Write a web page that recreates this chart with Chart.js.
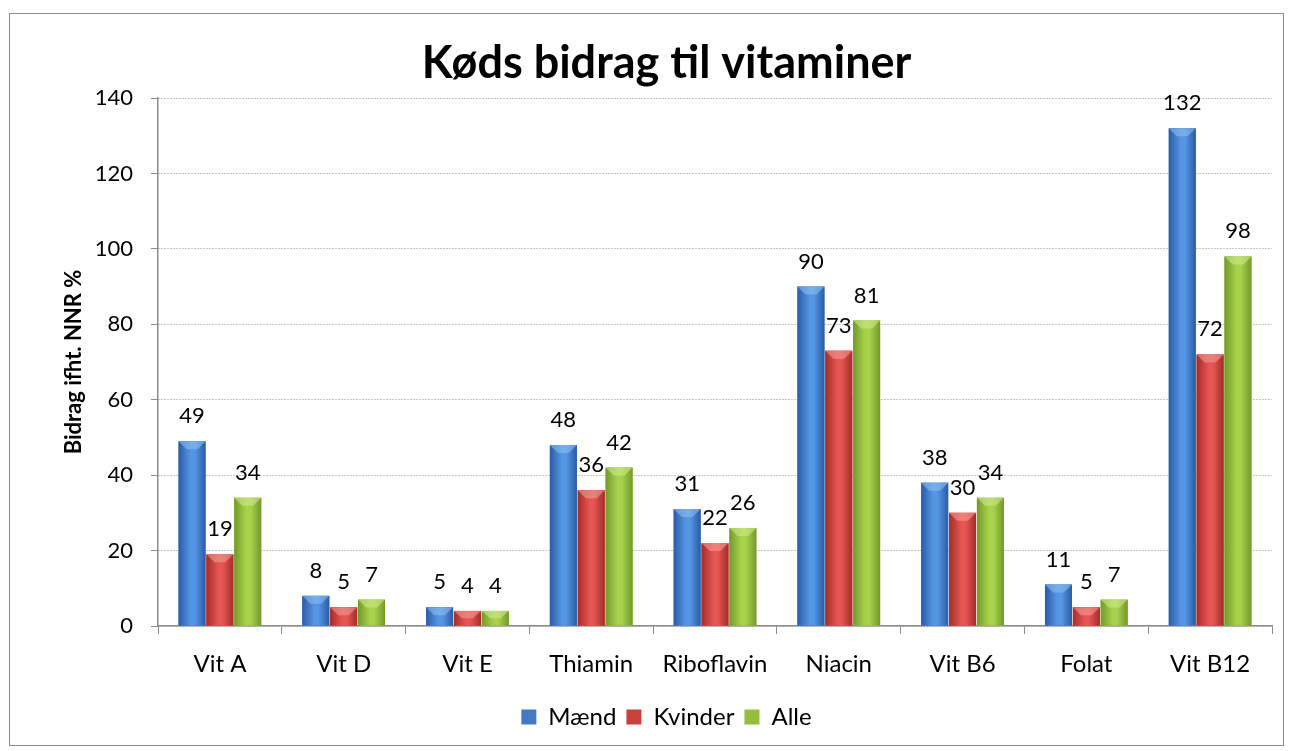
<!DOCTYPE html>
<html>
<head>
<meta charset="utf-8">
<script src="https://cdn.jsdelivr.net/npm/chart.js@4/dist/chart.umd.min.js"></script>
<style>
  html, body { margin: 0; padding: 0; background: #fff; }
  #frame { position: absolute; left: 9px; top: 13px; width: 1273px; height: 731px; border: 1px solid #8c8c8c; }
  #wrap { position: absolute; left: 0; top: 0; width: 1292px; height: 751px; }
</style>
</head>
<body>
<div id="frame"></div>
<div id="wrap"><canvas id="chart" width="1292" height="751"></canvas></div>
<script>
// Data
const categories = ['Vit A', 'Vit D', 'Vit E', 'Thiamin', 'Riboflavin', 'Niacin', 'Vit B6', 'Folat', 'Vit B12'];
const maend   = [49, 8, 5, 48, 31, 90, 38, 11, 132];
const kvinder = [19, 5, 4, 36, 22, 73, 30, 5, 72];
const alle    = [34, 7, 4, 42, 26, 81, 34, 7, 98];
const yTicks  = [0, 20, 40, 60, 80, 100, 120, 140];

// base, edge (dark), centre (light), bevel
const PALETTE = [
  { base: '#4479c4', edge: '#2a5ca6', mid: '#5596e4', bevel: '#8cbcf0' },
  { base: '#c9403c', edge: '#a42c29', mid: '#e65652', bevel: '#f39a96' },
  { base: '#94bf3c', edge: '#73992a', mid: '#a9d24c', bevel: '#cde88a' }
];

const FONT = 'Lato, "Open Sans", sans-serif';

// draws each bar with a cylinder-like gradient, a top bevel and its value
const barStylePlugin = {
  id: 'barStyle',
  afterDatasetsDraw(chart) {
    const ctx = chart.ctx;
    chart.data.datasets.forEach((ds, di) => {
      const meta = chart.getDatasetMeta(di);
      if (meta.hidden) return;
      const pal = PALETTE[di];
      meta.data.forEach((bar, i) => {
        const { x, y, base, width } = bar.getProps(['x', 'y', 'base', 'width'], true);
        const l = x - width / 2, r = x + width / 2;
        const g = ctx.createLinearGradient(l, 0, r, 0);
        g.addColorStop(0, pal.edge);
        g.addColorStop(0.45, pal.mid);
        g.addColorStop(0.6, pal.mid);
        g.addColorStop(1, pal.edge);
        ctx.save();
        ctx.fillStyle = g;
        ctx.fillRect(l, y, width, base - y);
        // bevel on top
        const b = Math.min(8, (base - y) / 2, width / 2);
        ctx.fillStyle = pal.bevel;
        ctx.globalAlpha = 0.6;
        ctx.beginPath();
        ctx.moveTo(l, y);
        ctx.lineTo(r, y);
        ctx.lineTo(x + width * 0.2, y + b);
        ctx.lineTo(x - width * 0.2, y + b);
        ctx.closePath();
        ctx.fill();
        ctx.restore();
        // value label
        ctx.save();
        ctx.fillStyle = '#000';
        ctx.font = '22px ' + FONT;
        ctx.textAlign = 'center';
        ctx.textBaseline = 'alphabetic';
        ctx.fillText(String(ds.data[i]), x, y - 18);
        ctx.restore();
      });
    });
  }
};

new Chart(document.getElementById('chart'), {
  type: 'bar',
  data: {
    labels: categories,
    datasets: [
      { label: 'Mænd', data: maend, backgroundColor: PALETTE[0].base },
      { label: 'Kvinder', data: kvinder, backgroundColor: PALETTE[1].base },
      { label: 'Alle', data: alle, backgroundColor: PALETTE[2].base }
    ]
  },
  options: {
    responsive: false,
    animation: false,
    categoryPercentage: 0.675,
    barPercentage: 0.97,
    layout: { padding: { top: 18, left: 61, right: 20, bottom: 12 } },
    plugins: {
      title: {
        display: true,
        text: 'Køds bidrag til vitaminer',
        color: '#000',
        font: { family: FONT, size: 45, weight: 'bold' },
        padding: { top: 18, bottom: 8 }
      },
      legend: {
        position: 'bottom',
        labels: {
          color: '#000',
          font: { family: FONT, size: 24 },
          boxWidth: 15,
          boxHeight: 15,
          padding: 10
        }
      },
      tooltip: { enabled: false }
    },
    scales: {
      x: {
        afterFit(scale) { scale.height = 69; },
        grid: { offset: true, drawOnChartArea: false, color: '#8c8c8c', tickLength: 8 },
        border: { color: '#8c8c8c', width: 1.5 },
        ticks: { color: '#000', font: { family: FONT, size: 24 }, padding: 16 }
      },
      y: {
        min: 0,
        max: 140,
        afterFit(scale) { scale.width = 97; },
        afterBuildTicks(scale) { scale.ticks = yTicks.map(v => ({ value: v })); },
        title: {
          display: true,
          text: 'Bidrag ifht. NNR %',
          color: '#000',
          font: { family: FONT, size: 22, weight: 'bold' },
          padding: 0
        },
        grid: {
          color: '#8f8f8f',
          lineWidth: 1,
          tickLength: 7,
          tickColor: '#8c8c8c',
          tickBorderDash: []
        },
        border: { color: '#8c8c8c', width: 1.5, dash: [1, 2] },
        ticks: { color: '#000', font: { family: FONT, size: 22 }, padding: 18 }
      }
    }
  },
  plugins: [barStylePlugin]
});
</script>
</body>
</html>
